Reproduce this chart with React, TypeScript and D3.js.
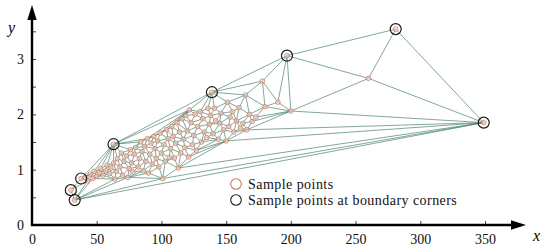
import { useEffect, useRef } from 'react'
import * as d3 from 'd3'

// boundary corner points (x, y)
const cornerPoints: [number, number][] = [
  [33, 0.45], [30, 0.63], [38, 0.84], [63, 1.46], [139, 2.4],
  [197, 3.06], [281, 3.54], [349, 1.85],
]

// other sample points
const samplePoints: [number, number][] = [
  [41, 0.86], [43, 0.8], [45, 0.92], [47, 0.84], [48, 0.97], [50, 0.88], [52, 0.95],
  [53, 1.02], [55, 0.9], [57, 0.98], [58, 1.08], [60, 0.93], [61, 1.03],
  [63, 1.12], [64, 0.83], [65, 0.97], [66, 1.2], [68, 1.05], [69, 1.3], [70, 0.9],
  [71, 1.15], [73, 1.25], [74, 0.86], [75, 1.02], [76, 1.36], [77, 1.12], [78, 0.96],
  [79, 1.28], [80, 1.4],
  [82, 1.05], [83, 1.2], [84, 1.5], [85, 1.33], [86, 0.98], [87, 1.42], [88, 1.15],
  [89, 1.56], [90, 0.94], [91, 1.28], [92, 1.48], [93, 1.1], [94, 1.6], [95, 1.38],
  [96, 1.2], [97, 1.52], [98, 1.05], [99, 1.66], [100, 1.3], [101, 0.84],
  [102, 1.45], [103, 1.15], [104, 1.72], [105, 1.56], [106, 1.22], [107, 1.38],
  [108, 1.78], [109, 1.6], [110, 1.21], [111, 1.48], [112, 1.85], [113, 1.03],
  [114, 1.68], [115, 1.3], [116, 1.92], [117, 1.55], [118, 1.4], [119, 1.98],
  [120, 1.7], [121, 1.23], [121.5, 2.08],
  [123, 1.85], [124, 1.45], [125, 1.62], [126, 2.0], [127, 1.35], [128, 1.78],
  [130, 2.05], [131, 1.5], [132, 1.92], [133, 1.68], [135, 1.58], [136, 2.11],
  [137, 1.82], [138, 1.98], [140, 1.65], [141, 2.11], [142, 1.88],
  [144, 1.55], [145, 1.84], [146, 2.02], [148, 1.72], [150, 1.52], [151, 2.22],
  [152, 1.78], [153, 1.95], [155, 2.05], [156, 1.68], [158, 1.88], [160, 2.12],
  [161, 1.75], [163, 1.84], [165, 2.35], [166, 1.72], [168, 2.0], [170, 1.87],
  [173, 1.95],
  [178, 2.6], [180, 2.14], [190, 2.22], [200, 2.06], [260, 2.65],
]

const xTicks = [0, 50, 100, 150, 200, 250, 300, 350]
const yTicks = [0, 0.5, 1, 1.5, 2, 2.5, 3, 3.5]
const legendLabels = ['Sample points', 'Sample points at boundary corners']

const W = 550
const H = 252
const FONT = '"Liberation Serif", "DejaVu Serif", serif'

const App = () => {
  const ref = useRef<SVGSVGElement>(null)

  useEffect(() => {
    if (!ref.current) return
    const svg = d3.select(ref.current)
    svg.selectAll('*').remove()

    const x = d3.scaleLinear().domain([0, 350]).range([32, 485])
    const y = d3.scaleLinear().domain([0, 3]).range([225, 59])

    // triangulation
    const all = [...cornerPoints, ...samplePoints]
    const delaunay = d3.Delaunay.from(all, d => x(d[0]), d => y(d[1]))
    svg.append('path')
      .attr('d', delaunay.render())
      .attr('fill', 'none')
      .attr('stroke', '#4d8371')
      .attr('stroke-width', 0.9)
      .attr('stroke-opacity', 0.78)

    // sample points
    svg.append('g')
      .selectAll('circle')
      .data(all)
      .enter()
      .append('circle')
      .attr('cx', d => x(d[0]))
      .attr('cy', d => y(d[1]))
      .attr('r', 2.3)
      .attr('fill', '#f1ddd2')
      .attr('fill-opacity', 0.6)
      .attr('stroke', '#cf7a62')
      .attr('stroke-width', 0.8)

    // boundary corners
    svg.append('g')
      .selectAll('circle')
      .data(cornerPoints)
      .enter()
      .append('circle')
      .attr('cx', d => x(d[0]))
      .attr('cy', d => y(d[1]))
      .attr('r', 5.5)
      .attr('fill', 'none')
      .attr('stroke', '#1a1a1a')
      .attr('stroke-width', 1.2)

    // axes
    const xAxis = svg.append('g')
      .attr('transform', 'translate(0,225)')
      .call(d3.axisBottom(x).tickValues(xTicks).tickSizeInner(-4).tickSizeOuter(0).tickPadding(9))
    xAxis.select('.domain').remove()
    xAxis.selectAll('line').attr('stroke', '#444')
    xAxis.selectAll('text').style('font-family', FONT).style('font-size', '14px').attr('fill', '#111')

    const yAxis = svg.append('g')
      .attr('transform', 'translate(32,0)')
      .call(d3.axisLeft(y).tickValues(yTicks).tickSizeInner(-4).tickSizeOuter(0).tickPadding(8)
        .tickFormat(d => (Number(d) % 1 === 0 && Number(d) <= 3 ? String(d) : '')))
    yAxis.select('.domain').remove()
    yAxis.selectAll('line').attr('stroke', '#444')
    yAxis.selectAll('text').style('font-family', FONT).style('font-size', '14px').attr('fill', '#111')

    // axis lines with arrows
    svg.append('line').attr('x1', 32).attr('y1', 226).attr('x2', 32).attr('y2', 18)
      .attr('stroke', '#000').attr('stroke-width', 2.4)
    svg.append('path').attr('d', 'M32,5 L27.3,20 L36.7,20 Z').attr('fill', '#000')
    svg.append('line').attr('x1', 31).attr('y1', 225).attr('x2', 514).attr('y2', 225)
      .attr('stroke', '#000').attr('stroke-width', 2.4)
    svg.append('path').attr('d', 'M526,225 L511,220.3 L511,229.7 Z').attr('fill', '#000')

    svg.append('text').attr('x', 8).attr('y', 33).text('y')
      .style('font-family', FONT).style('font-size', '16px').style('font-style', 'italic')
    svg.append('text').attr('x', 533).attr('y', 241).text('x')
      .style('font-family', FONT).style('font-size', '16px').style('font-style', 'italic')

    // legend
    const legend = svg.append('g')
    legendLabels.forEach((label, i) => {
      const cy = 184 + i * 16
      legend.append('circle')
        .attr('cx', 236).attr('cy', cy).attr('r', 5.3)
        .attr('fill', 'none')
        .attr('stroke', i === 0 ? '#d5785f' : '#222')
        .attr('stroke-width', 1.1)
      legend.append('text')
        .attr('x', 248).attr('y', cy + 4.5)
        .text(label)
        .style('font-family', FONT).style('font-size', '14px')
        .style('letter-spacing', '0.45px')
        .attr('fill', '#111')
    })
  }, [])

  return <svg ref={ref} width={W} height={H} style={{ position: 'absolute', left: 0, top: 0, background: '#fff' }} />
}

export default App
